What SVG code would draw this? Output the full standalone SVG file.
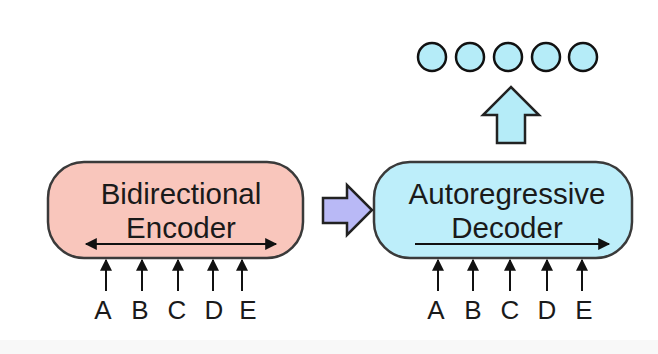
<svg xmlns="http://www.w3.org/2000/svg" width="658" height="354" viewBox="0 0 658 354">
<defs>
<style>
.box{stroke:#3a3a3a;stroke-width:2.5}
.lbl{font-family:"Liberation Sans",Arial,sans-serif;font-size:29.5px;fill:#1a1a1a;text-anchor:middle}
.tok{font-family:"Liberation Sans",Arial,sans-serif;font-size:26px;fill:#1a1a1a;text-anchor:middle}
.ln{stroke:#111;stroke-width:2;fill:none}
.circ{fill:#b5ecf8;stroke:#111;stroke-width:2.5}
.blk{stroke:#222;stroke-width:2.5;stroke-linejoin:miter}
</style>
<marker id="ahb" viewBox="0 0 10 10" refX="9" refY="5" markerWidth="16" markerHeight="12" markerUnits="userSpaceOnUse" orient="auto-start-reverse">
<path d="M0,0 L10,5 L0,10 z" fill="#111"/>
</marker>
</defs>
<rect x="0" y="0" width="658" height="354" fill="#ffffff"/>
<rect x="0" y="340" width="658" height="14" fill="#f8f8f8"/>

<g id="encoder">
<rect class="box" x="48" y="162" width="255" height="96" rx="36" fill="#f9c6bc"/>
<text class="lbl" x="181" y="204">Bidirectional</text>
<text class="lbl" x="181" y="238">Encoder</text>
</g>

<g id="decoder">
<rect class="box" x="374" y="162" width="258" height="96" rx="36" fill="#bdeefa"/>
<text class="lbl" x="507" y="204">Autoregressive</text>
<text class="lbl" x="507" y="238">Decoder</text>
</g>

<g id="outputs">
<circle class="circ" cx="432" cy="57" r="14"/>
<circle class="circ" cx="470" cy="57" r="14"/>
<circle class="circ" cx="508" cy="57" r="14"/>
<circle class="circ" cx="546" cy="57" r="14"/>
<circle class="circ" cx="583" cy="57" r="14"/>
</g>

<g id="enc-tokens">
<text class="tok" x="103" y="319">A</text>
<text class="tok" x="140" y="319">B</text>
<text class="tok" x="177" y="319">C</text>
<text class="tok" x="214" y="319">D</text>
<text class="tok" x="248" y="319">E</text>
</g>

<g id="dec-tokens">
<text class="tok" x="436" y="319">A</text>
<text class="tok" x="473" y="319">B</text>
<text class="tok" x="510" y="319">C</text>
<text class="tok" x="547" y="319">D</text>
<text class="tok" x="584" y="319">E</text>
</g>

<g id="connectors">
<line class="ln" x1="86" y1="244" x2="276" y2="244" marker-start="url(#ahb)" marker-end="url(#ahb)"/>
<line class="ln" x1="415" y1="244" x2="609" y2="244" marker-end="url(#ahb)"/>
<line class="ln" x1="106" y1="291" x2="106" y2="260" marker-end="url(#ahb)"/>
<line class="ln" x1="142" y1="291" x2="142" y2="260" marker-end="url(#ahb)"/>
<line class="ln" x1="178" y1="291" x2="178" y2="260" marker-end="url(#ahb)"/>
<line class="ln" x1="213" y1="291" x2="213" y2="260" marker-end="url(#ahb)"/>
<line class="ln" x1="242" y1="291" x2="242" y2="260" marker-end="url(#ahb)"/>
<line class="ln" x1="438" y1="291" x2="438" y2="260" marker-end="url(#ahb)"/>
<line class="ln" x1="473" y1="291" x2="473" y2="260" marker-end="url(#ahb)"/>
<line class="ln" x1="510" y1="291" x2="510" y2="260" marker-end="url(#ahb)"/>
<line class="ln" x1="547" y1="291" x2="547" y2="260" marker-end="url(#ahb)"/>
<line class="ln" x1="582" y1="291" x2="582" y2="260" marker-end="url(#ahb)"/>
<polygon class="blk" fill="#b9b9f6" points="323,198 347,198 347,185 372,210 347,235 347,223 323,223"/>
<polygon class="blk" fill="#b5ecf8" points="497,143 497,115 483,115 511,87 539,115 525,115 525,143"/>
</g>
</svg>
